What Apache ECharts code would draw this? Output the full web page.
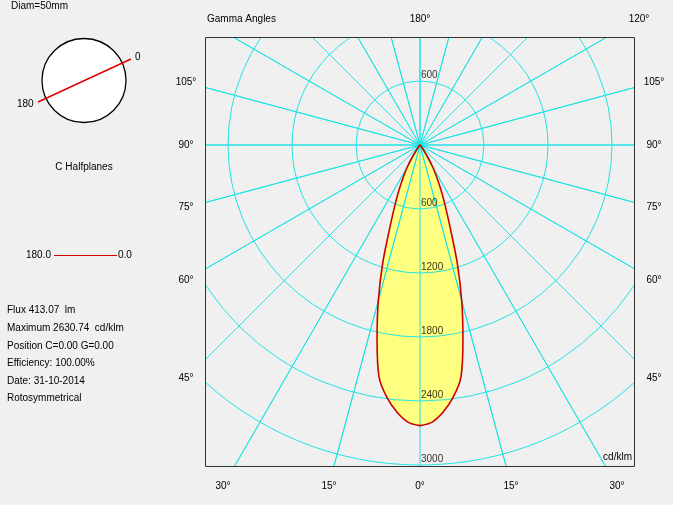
<!DOCTYPE html>
<html>
<head>
<meta charset="utf-8">
<script src="https://cdn.jsdelivr.net/npm/echarts@6/dist/echarts.min.js"></script>
<style>
html,body{margin:0;padding:0;background:#f0f0f0;}
#chart{width:673px;height:505px;}
</style>
</head>
<body>
<div id="chart"></div>
<script>
// ---- data ----
var gammaAngles = [0, 2.5, 5, 7.5, 10, 12.5, 15, 17.5, 20, 22.5, 25, 27.5, 30, 32.5, 35, 37.5, 40, 45, 60, 90, 120, 150, 180];
var intensity   = [2631, 2600, 2510, 2385, 2210, 1860, 1510, 1165, 830, 620, 466, 340, 238, 138, 70, 30, 10, 0, 0, 0, 0, 0, 0];
var radiusTicks = [600, 1200, 1800, 2400, 3000];
var upperTicks  = [600];
var gridAngles  = [0, 15, 30, 45, 60, 75, 90, 105, 120, 135, 150, 165, 180, 195, 210, 225, 240, 255, 270, 285, 300, 315, 330, 345];
var sideAngleLabels   = ['105°', '90°', '75°', '60°', '45°'];
var bottomAngleLabels = ['30°', '15°', '0°', '15°', '30°'];
var topAngleLabels    = ['180°', '120°'];
var infoLines = ['Flux 413.07  lm', 'Maximum 2630.74  cd/klm', 'Position C=0.00 G=0.00', 'Efficiency: 100.00%', 'Date: 31-10-2014', 'Rotosymmetrical'];
var legendLeft = '180.0', legendRight = '0.0';

// ---- layout ----
var CX = 420, CY = 145;
var PX_PER_600 = 64;
var OUTER_PX = 420;
var RADIUS_MAX = OUTER_PX / PX_PER_600 * 600;
var BG = '#f0f0f0', CYAN = '#22e3e3', RED = '#cc0000';
var FONT = '10px "Liberation Sans", Arial, sans-serif';
var sideY = [82, 145, 207, 280, 378];
var bottomX = [223, 329, 420, 511, 617];
var topX = [420, 639];

var ringColors = [];
for (var c = 0; c < 12; c++) ringColors.push(c <= radiusTicks.length ? CYAN : 'rgba(0,0,0,0)');

var spokes = [];
gridAngles.forEach(function (a) { spokes.push([RADIUS_MAX, a]); spokes.push([0, a]); });

var curve = [];
for (var i = 0; i < gammaAngles.length; i++) curve.push([intensity[i], gammaAngles[i]]);
for (var j = gammaAngles.length - 1; j >= 0; j--) curve.push([intensity[j], 360 - gammaAngles[j]]);

var labelPts = radiusTicks.map(function (r) { return [r, 0]; })
  .concat(upperTicks.map(function (r) { return [r, 180]; }));

function txt(t, x, y, align, valign, z) {
  return { type: 'text', z: z || 20, silent: true,
    style: { text: t, x: x, y: y, fill: '#000', font: FONT,
      align: align || 'center', verticalAlign: valign || 'middle',
      textAlign: align || 'center', textVerticalAlign: valign || 'middle' } };
}
function hid() { return { show: false }; }

var graphics = [
  { type: 'rect', z: 10, silent: true, shape: { x: 0, y: 0, width: 205, height: 505 }, style: { fill: BG } },
  { type: 'rect', z: 10, silent: true, shape: { x: 635, y: 0, width: 38, height: 505 }, style: { fill: BG } },
  { type: 'rect', z: 10, silent: true, shape: { x: 0, y: 0, width: 673, height: 37 }, style: { fill: BG } },
  { type: 'rect', z: 10, silent: true, shape: { x: 0, y: 467, width: 673, height: 38 }, style: { fill: BG } },
  { type: 'rect', z: 15, silent: true, shape: { x: 205.5, y: 37.5, width: 429, height: 429 }, style: { fill: null, stroke: '#333', lineWidth: 1 } },
  { type: 'circle', z: 15, silent: true, shape: { cx: 84, cy: 80.5, r: 42 }, style: { fill: '#fff', stroke: '#000', lineWidth: 1.3 } },
  { type: 'line', z: 16, silent: true, shape: { x1: 38, y1: 102, x2: 131, y2: 59 }, style: { stroke: '#e00000', lineWidth: 1.5 } },
  txt('Diam=50mm', 11, 6.5, 'left'),
  txt('0', 135, 57, 'left'),
  txt('180', 17, 104, 'left'),
  txt('C Halfplanes', 84, 167, 'center'),
  txt(legendLeft, 51, 255, 'right'),
  { type: 'line', z: 16, silent: true, shape: { x1: 54, y1: 255.5, x2: 117, y2: 255.5 }, style: { stroke: '#d40000', lineWidth: 1.2 } },
  txt(legendRight, 118, 255, 'left'),
  txt('Gamma Angles', 207, 19, 'left'),
  txt('cd/klm', 632, 457, 'right')
];
infoLines.forEach(function (t, k) { graphics.push(txt(t, 7, 310.7 + k * 17.6, 'left')); });
sideAngleLabels.forEach(function (t, k) {
  graphics.push(txt(t, 186, sideY[k], 'center'));
  graphics.push(txt(t, 654, sideY[k], 'center'));
});
bottomAngleLabels.forEach(function (t, k) { graphics.push(txt(t, bottomX[k], 486, 'center')); });
topAngleLabels.forEach(function (t, k) { graphics.push(txt(t, topX[k], 19, 'center')); });

var option = {
  backgroundColor: BG,
  animation: false,
  polar: { center: [CX, CY], radius: OUTER_PX },
  angleAxis: { type: 'value', min: 0, max: 360, startAngle: 270,
    axisLine: hid(), axisTick: hid(), axisLabel: hid(), splitLine: hid() },
  radiusAxis: { type: 'value', min: 0, max: RADIUS_MAX, interval: 600,
    axisLine: hid(), axisTick: hid(), axisLabel: hid(),
    splitLine: { show: true, lineStyle: { color: ringColors, width: 1 } }, z: 3 },
  series: [
    { type: 'line', coordinateSystem: 'polar', data: curve, symbol: 'none',
      smooth: 0.3, z: 1, silent: true,
      lineStyle: { opacity: 0 }, areaStyle: { color: '#ffff80', opacity: 1 } },
    { type: 'line', coordinateSystem: 'polar', data: spokes, symbol: 'none',
      z: 3, silent: true, lineStyle: { color: CYAN, width: 1 } },
    { type: 'line', coordinateSystem: 'polar', data: curve, symbol: 'none',
      smooth: 0.3, z: 4, silent: true,
      lineStyle: { color: RED, width: 1.6 } },
    { type: 'scatter', coordinateSystem: 'polar', data: labelPts, symbolSize: 0,
      z: 5, silent: true, itemStyle: { color: 'rgba(0,0,0,0)' },
      label: { show: true, position: [1, -1], align: 'left', verticalAlign: 'bottom',
        color: '#000', fontSize: 10, fontFamily: '"Liberation Sans", Arial, sans-serif',
        formatter: function (p) { return String(p.value[0]); } } }
  ],
  graphic: graphics
};
var chart = echarts.init(document.getElementById('chart'), null, { renderer: 'canvas' });
chart.setOption(option);
</script>
</body>
</html>
